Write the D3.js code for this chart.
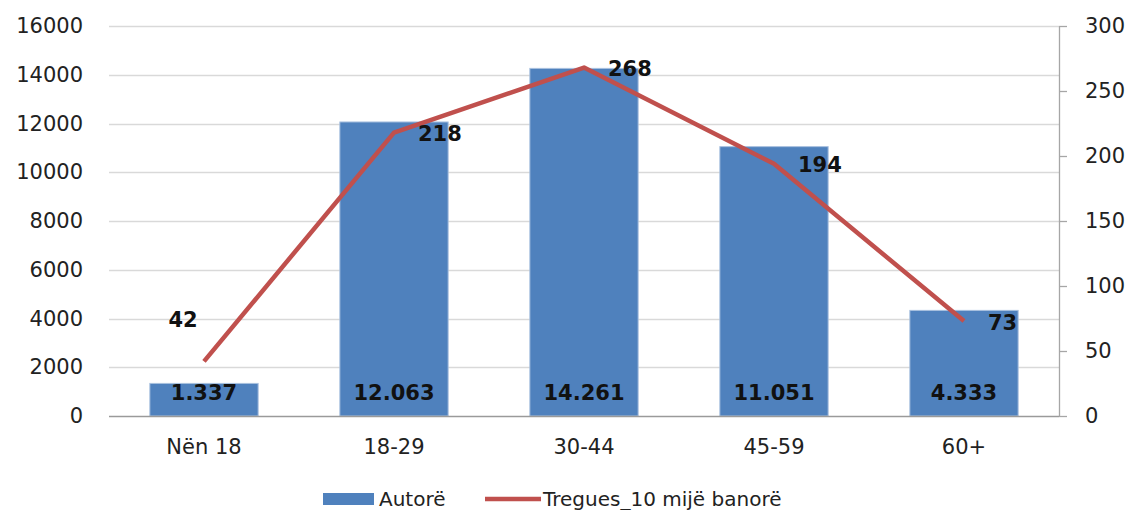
<!DOCTYPE html>
<html>
<head>
<meta charset="utf-8">
<script src="https://cdn.jsdelivr.net/npm/d3@7"></script>
<style>
  body { margin: 0; background: #fff; }
  svg text { font-family: "DejaVu Sans", sans-serif; fill: #222; }
</style>
</head>
<body>
<svg id="chart" width="1131" height="510"></svg>
<script>
// chart data
var categories = ['Nën 18', '18-29', '30-44', '45-59', '60+'];
var autore = [1337, 12063, 14261, 11051, 4333];
var autoreLabels = ['1.337', '12.063', '14.261', '11.051', '4.333'];
var tregues = [42, 218, 268, 194, 73];
var leftTicks = [0, 2000, 4000, 6000, 8000, 10000, 12000, 14000, 16000];
var rightTicks = [0, 50, 100, 150, 200, 250, 300];
var seriesNames = ['Autorë', 'Tregues_10 mijë banorë'];

var barColour = '#4f81bd',
    lineColour = '#c0504d';

var margin = {top: 26, left: 109, right: 72, bottom: 94},
    width = 1131 - margin.left - margin.right,
    height = 510 - margin.top - margin.bottom;

var svg = d3.select('#chart');
var g = svg.append('g')
  .attr('transform', 'translate(' + margin.left + ',' + margin.top + ')');

var x = d3.scaleBand()
  .domain(categories)
  .range([0, width])
  .paddingInner(0.43)
  .paddingOuter(0.215);

var yLeft = d3.scaleLinear().domain([0, 16000]).range([height, 0]);
var yRight = d3.scaleLinear().domain([0, 300]).range([height, 0]);

// gridlines
g.selectAll('.grid')
  .data(leftTicks.slice(1))
  .enter().append('line')
  .attr('class', 'grid')
  .attr('x1', 0)
  .attr('x2', width)
  .attr('y1', function(d){ return Math.round(yLeft(d)) + 0.5; })
  .attr('y2', function(d){ return Math.round(yLeft(d)) + 0.5; })
  .style('stroke', '#d9d9d9')
  .style('stroke-width', 1.3);

// left axis (labels only)
var leftAxis = g.append('g')
  .call(d3.axisLeft(yLeft).tickValues(leftTicks).tickSize(0).tickPadding(26).tickFormat(d3.format('d')));
leftAxis.select('.domain').remove();
leftAxis.selectAll('text')
  .style('font-size', '21px')
  .style('font-family', '"DejaVu Sans", sans-serif')
  .attr('fill', '#222');

// right axis
var rightAxis = g.append('g')
  .attr('transform', 'translate(' + width + ',0)')
  .call(d3.axisRight(yRight).tickValues(rightTicks).tickSize(8).tickPadding(18).tickSizeOuter(0));
rightAxis.select('.domain').style('stroke', '#a6a6a6').style('stroke-width', 1.3);
rightAxis.selectAll('line').style('stroke', '#a6a6a6').style('stroke-width', 1.3);
rightAxis.selectAll('text')
  .style('font-size', '21px')
  .style('font-family', '"DejaVu Sans", sans-serif')
  .attr('fill', '#222');

// bars
g.selectAll('.bar')
  .data(autore)
  .enter().append('rect')
  .attr('class', 'bar')
  .attr('x', function(d, i){ return x(categories[i]); })
  .attr('width', x.bandwidth())
  .attr('y', function(d){ return yLeft(d); })
  .attr('height', function(d){ return height - yLeft(d); })
  .style('fill', barColour)
  .style('stroke', '#a9c1df')
  .style('stroke-width', 1);

// baseline
g.append('line')
  .attr('x1', 0).attr('x2', width)
  .attr('y1', height + 0.5).attr('y2', height + 0.5)
  .style('stroke', '#9a9a9a')
  .style('stroke-width', 1.5);

// x axis labels
var xAxis = g.append('g')
  .attr('transform', 'translate(0,' + height + ')')
  .call(d3.axisBottom(x).tickSize(0).tickPadding(23));
xAxis.select('.domain').remove();
xAxis.selectAll('text')
  .style('font-size', '21px')
  .style('font-family', '"DejaVu Sans", sans-serif')
  .attr('fill', '#222');

// bar value labels
g.selectAll('.barlabel')
  .data(autoreLabels)
  .enter().append('text')
  .attr('class', 'barlabel')
  .attr('x', function(d, i){ return x(categories[i]) + x.bandwidth() / 2; })
  .attr('y', height - 24)
  .attr('dy', '0.36em')
  .attr('text-anchor', 'middle')
  .style('font-size', '21px')
  .style('font-weight', 'bold')
  .style('fill', '#111')
  .text(function(d){ return d; });

// line
var line = d3.line()
  .x(function(d, i){ return x(categories[i]) + x.bandwidth() / 2; })
  .y(function(d){ return yRight(d); });

g.append('path')
  .datum(tregues)
  .attr('d', line)
  .style('fill', 'none')
  .style('stroke', lineColour)
  .style('stroke-width', 4.5)
  .style('stroke-linejoin', 'round');

// line value labels (first one sits above, the rest to the right)
g.selectAll('.linelabel')
  .data(tregues)
  .enter().append('text')
  .attr('class', 'linelabel')
  .attr('x', function(d, i){
    var cx = x(categories[i]) + x.bandwidth() / 2;
    return i == 0 ? cx - 21 : cx + 24;
  })
  .attr('y', function(d, i){ return i == 0 ? yRight(d) - 42 : yRight(d) + 1; })
  .attr('dy', '0.36em')
  .attr('text-anchor', function(d, i){ return i == 0 ? 'middle' : 'start'; })
  .style('font-size', '21px')
  .style('font-weight', 'bold')
  .style('fill', '#111')
  .text(function(d){ return d; });

// legend
var legend = svg.append('g').attr('transform', 'translate(323,499)');
legend.append('rect')
  .attr('x', 0).attr('y', -6)
  .attr('width', 51).attr('height', 12)
  .style('fill', barColour);
legend.append('text')
  .attr('x', 56).attr('dy', '0.36em')
  .style('font-size', '20px')
  .text(seriesNames[0]);
legend.append('line')
  .attr('x1', 162).attr('x2', 218)
  .attr('y1', 0).attr('y2', 0)
  .style('stroke', lineColour)
  .style('stroke-width', 4.5);
legend.append('text')
  .attr('x', 220).attr('dy', '0.36em')
  .style('font-size', '20px')
  .text(seriesNames[1]);
</script>
</body>
</html>
